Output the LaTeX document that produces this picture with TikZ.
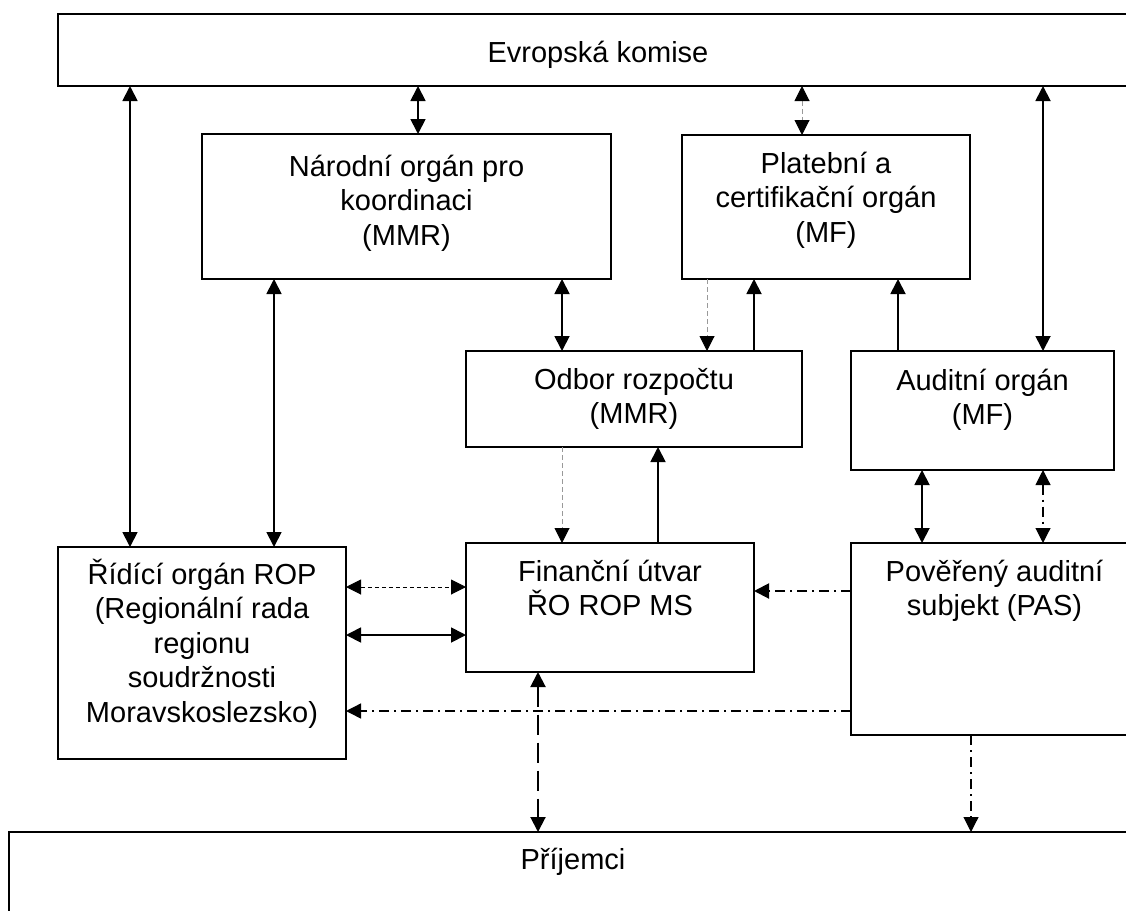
\documentclass[tikz,border=0pt]{standalone}
\usepackage{fontspec}
\setmainfont{Liberation Sans}
\usetikzlibrary{arrows.meta}
\newcommand{\bigf}{\fontsize{29}{34.5}\selectfont}
\newcommand{\tl}{\rule{0pt}{27pt}}
\begin{document}
\begin{tikzpicture}[x=1pt,y=-1pt,
  box/.style={draw, line width=2pt, anchor=north west, inner sep=0pt, outer sep=0pt, rectangle},
  boxtext/.style={anchor=north, inner sep=0pt, align=center, font=\bigf},
  tip/.style={-{Triangle[width=15pt,length=15pt,color=black]}},
  bi/.style={{Triangle[width=15pt,length=15pt,color=black]}-{Triangle[width=15pt,length=15pt,color=black]}},
  solidc/.style={line width=1.8pt},
  grayd/.style={line width=1pt, draw=black!40, dash pattern=on 5pt off 3pt},
  thind/.style={line width=1pt, dash pattern=on 4pt off 3pt},
  dashdot/.style={line width=1.4pt, dash pattern=on 10pt off 5pt on 2pt off 5pt},
  longd/.style={line width=2pt, dash pattern=on 20pt off 8pt}
]
\path[use as bounding box, fill=white] (0,0) rectangle (1126,910);
\clip (0,0) rectangle (1126,910);

% boxes
\node[box, minimum width=1080pt, minimum height=72pt] (ek) at (58,14) {};
\node[box, minimum width=409pt, minimum height=145pt] (nok) at (202,134) {};
\node[box, minimum width=288pt, minimum height=144pt] (pco) at (682,135) {};
\node[box, minimum width=336pt, minimum height=96pt] (odb) at (466,351) {};
\node[box, minimum width=263pt, minimum height=119pt] (ao) at (851,351) {};
\node[box, minimum width=288pt, minimum height=212pt] (ro) at (58,547) {};
\node[box, minimum width=288pt, minimum height=129pt] (fu) at (466,543) {};
\node[box, minimum width=287pt, minimum height=192pt] (pas) at (851,543) {};
\node[box, minimum width=1128pt, minimum height=120pt] (pri) at (9,832) {};

% texts
\node[boxtext, yshift=-21pt] (ekt) at (ek.north) {\tl Evropská komise};
\node[boxtext, yshift=-15pt] (nokt) at (nok.north) {\tl Národní orgán pro\\koordinaci\\(MMR)};
\node[boxtext, yshift=-11pt] (pcot) at (pco.north) {\tl Platební a\\certifikační orgán\\(MF)};
\node[boxtext, yshift=-11pt] (odbt) at (odb.north) {\tl Odbor rozpočtu\\(MMR)};
\node[boxtext, yshift=-12pt] (aot) at (ao.north) {\tl Auditní orgán\\(MF)};
\node[boxtext, yshift=-10pt] (rot) at (ro.north) {\tl Řídící orgán ROP\\(Regionální rada\\regionu\\soudržnosti\\Moravskoslezsko)};
\node[boxtext, yshift=-11pt] (fut) at (fu.north) {\tl Finanční útvar\\ŘO ROP MS};
\node[boxtext, yshift=-11pt] (past) at (pas.north) {\tl Pověřený auditní\\subjekt (PAS)};
\node[boxtext, yshift=-10pt] (prit) at (pri.north) {\tl Příjemci};

% guide coordinates
\coordinate (v130) at (130,0);
\coordinate (v274) at (274,0);
\coordinate (v418) at (418,0);
\coordinate (v538) at (538,0);
\coordinate (v562) at (562,0);
\coordinate (v658) at (658,0);
\coordinate (v707) at (707,0);
\coordinate (v754) at (754,0);
\coordinate (v802) at (802,0);
\coordinate (v898) at (898,0);
\coordinate (v922) at (922,0);
\coordinate (v971) at (971,0);
\coordinate (v1043) at (1043,0);
\coordinate (h587) at (0,587);
\coordinate (h591) at (0,591);
\coordinate (h635) at (0,635);
\coordinate (h711) at (0,711);

% connectors
\draw[solidc,bi] (ek.south -| v130) -- (ro.north -| v130);
\draw[solidc,bi] (ek.south -| v418) -- (nok.north -| v418);
\draw[grayd,bi] (ek.south -| v802) -- (pco.north -| v802);
\draw[solidc,bi] (ek.south -| v1043) -- (ao.north -| v1043);
\draw[solidc,bi] (nok.south -| v274) -- (ro.north -| v274);
\draw[solidc,bi] (nok.south -| v562) -- (odb.north -| v562);
\draw[grayd,tip] (pco.south -| v707) -- (odb.north -| v707);
\draw[solidc,tip] (odb.north -| v754) -- (pco.south -| v754);
\draw[solidc,tip] (ao.north -| v898) -- (pco.south -| v898);
\draw[grayd,tip] (odb.south -| v562) -- (fu.north -| v562);
\draw[solidc,tip] (fu.north -| v658) -- (odb.south -| v658);
\draw[solidc,bi] (ao.south -| v922) -- (pas.north -| v922);
\draw[dashdot,line width=1.1pt,bi] (ao.south -| v1043) -- (pas.north -| v1043);
\draw[thind,bi] (ro.east |- h587) -- (fu.west |- h587);
\draw[solidc,bi] (ro.east |- h635) -- (fu.west |- h635);
\draw[dashdot,line width=2pt,tip] (pas.west |- h591) -- (fu.east |- h591);
\draw[dashdot,tip] (pas.west |- h711) -- (ro.east |- h711);
\draw[longd,bi] (fu.south -| v538) -- (pri.north -| v538);
\draw[dashdot,line width=1.1pt,tip] (pas.south -| v971) -- (pri.north -| v971);
\end{tikzpicture}
\end{document}
